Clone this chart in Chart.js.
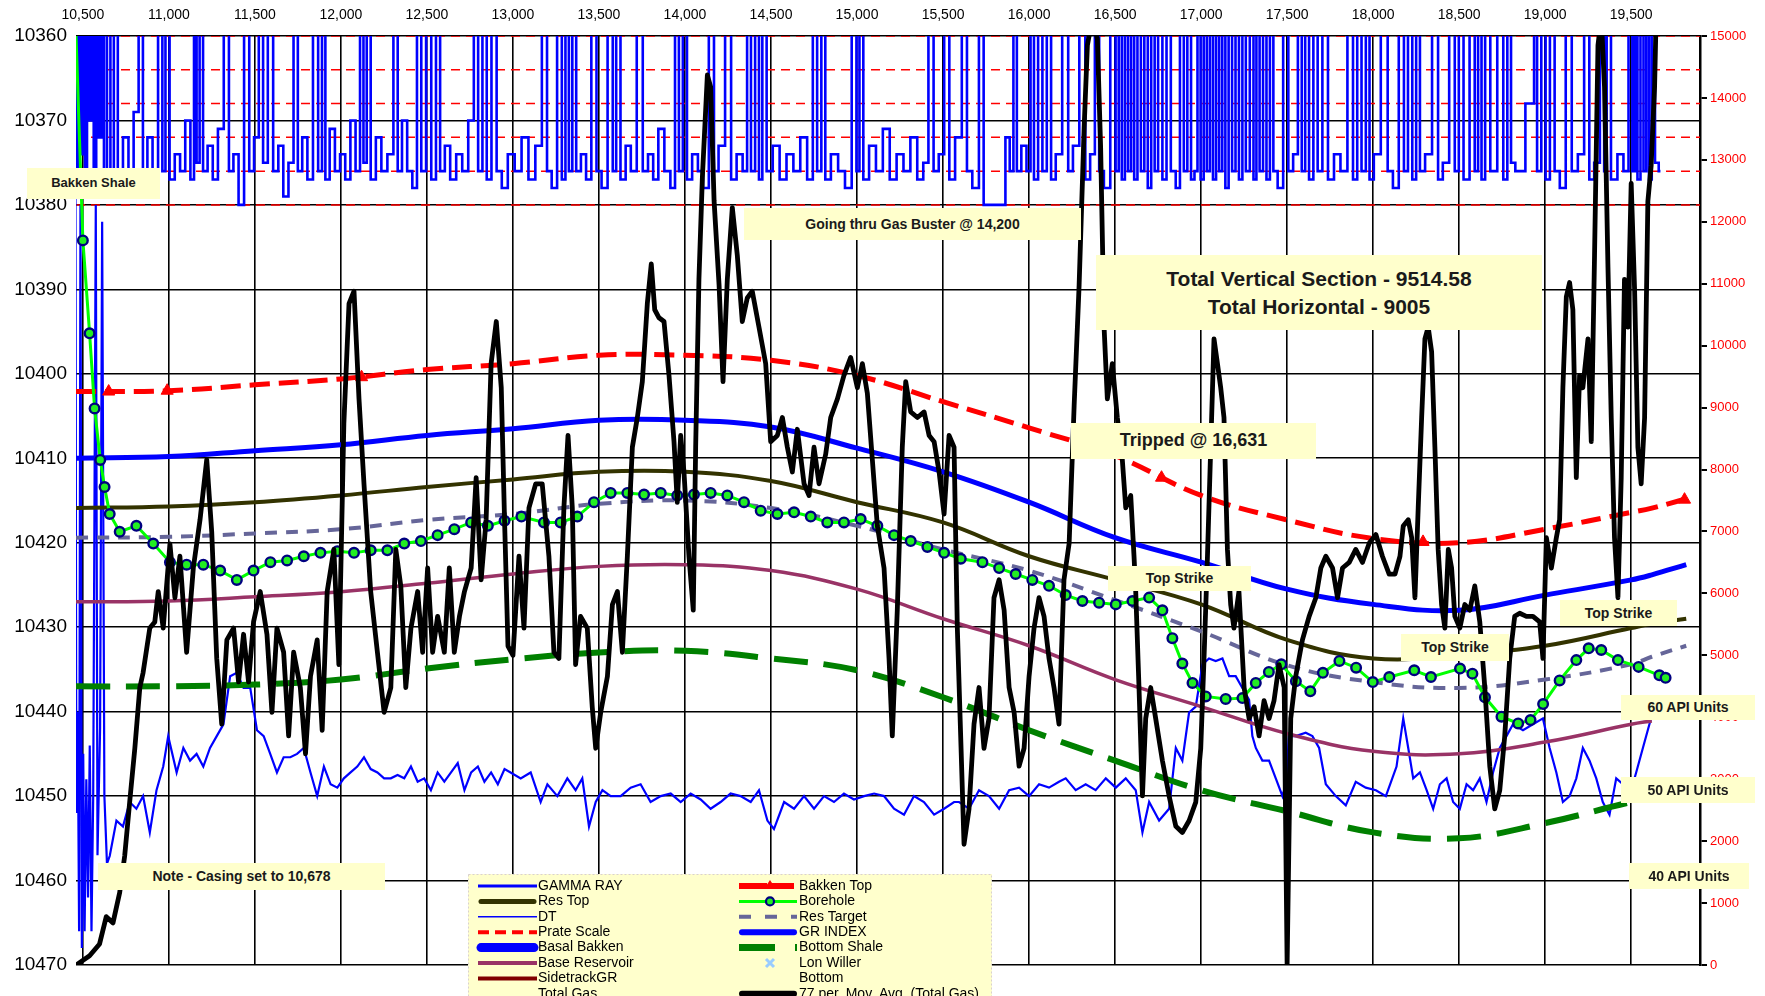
<!DOCTYPE html>
<html>
<head>
<meta charset="utf-8">
<title>Horizontal well log</title>
<script src="https://cdn.jsdelivr.net/npm/chart.js@4.4.1/dist/chart.umd.min.js"></script>
<style>
html,body{margin:0;padding:0;background:#fff;overflow:hidden;}
#wrap{position:relative;width:1765px;height:996px;}
#c{position:absolute;left:0;top:0;}
.note{position:absolute;box-sizing:border-box;background:#ffffcc;color:#1a1a1a;font-family:'Liberation Sans',Arial,sans-serif;font-weight:bold;display:flex;flex-direction:column;align-items:center;justify-content:center;white-space:nowrap;line-height:1.3;}
</style>
</head>
<body>
<div id="wrap">
<canvas id="c" width="1765" height="996"></canvas>
<div class="note" style="left:27px;top:168px;width:133px;height:31px;font-size:13px;">Bakken Shale</div>
<div class="note" style="left:744px;top:208px;width:337px;height:32px;font-size:14px;">Going thru Gas Buster @ 14,200</div>
<div class="note" style="left:1096px;top:255px;width:446px;height:75px;font-size:21px;"><div>Total Vertical Section - 9514.58</div><div>Total Horizontal - 9005</div></div>
<div class="note" style="left:1071px;top:423px;width:245px;height:36px;font-size:18px;">Tripped @ 16,631</div>
<div class="note" style="left:1108px;top:566px;width:143px;height:25px;font-size:14px;">Top Strike</div>
<div class="note" style="left:1401px;top:634px;width:108px;height:27px;font-size:14px;">Top Strike</div>
<div class="note" style="left:1560px;top:600px;width:117px;height:26px;font-size:14px;">Top Strike</div>
<div class="note" style="left:1621px;top:695px;width:134px;height:25px;font-size:14px;">60 API Units</div>
<div class="note" style="left:1621px;top:777px;width:134px;height:26px;font-size:14px;">50 API Units</div>
<div class="note" style="left:1629px;top:863px;width:120px;height:26px;font-size:14px;">40 API Units</div>
<div class="note" style="left:98px;top:863px;width:287px;height:27px;font-size:14px;">Note - Casing set to 10,678</div>
</div>
<script>
// ---------------- axes / ticks ----------------
const MD_MIN = 10460, MD_MAX = 19900;
const X_TICKS = [10500,11000,11500,12000,12500,13000,13500,14000,14500,15000,15500,16000,16500,17000,17500,18000,18500,19000,19500];
const DEPTH_TICKS = [10360,10370,10380,10390,10400,10410,10420,10430,10440,10450,10460,10470];
const GAS_TICKS = [0,1000,2000,3000,4000,5000,6000,7000,8000,9000,10000,11000,12000,13000,14000,15000];

// ---------------- smooth formation surfaces (depth at measured depth) ----------------
const SURF_MD      = [10460,11000,11500,12000,12500,13000,13500,14000,14500,15000,15500,16000,16500,17000,17500,18000,18500,19000,19500,19620,19820];
const BAKKEN_TOP   = [10402.1,10402.0,10401.3,10400.6,10399.5,10398.8,10397.8,10397.8,10398.4,10400.2,10403.3,10406.4,10409.7,10414.4,10417.3,10419.5,10420.0,10418.4,10416.4,10415.9,10414.8];
const BASAL_BAKKEN = [10410.0,10409.8,10409.1,10408.4,10407.3,10406.5,10405.5,10405.5,10406.3,10408.8,10411.6,10415.2,10419.4,10422.3,10425.5,10427.3,10428.0,10426.2,10424.4,10423.8,10422.6];
const RES_TOP      = [10415.9,10415.7,10415.2,10414.4,10413.4,10412.5,10411.6,10411.6,10412.7,10415.2,10417.6,10421.6,10424.4,10427.3,10431.5,10433.7,10433.3,10432.2,10430.1,10429.6,10429.0];
const RES_TARGET   = [10419.4,10419.3,10418.9,10418.4,10417.3,10416.6,10415.4,10415.0,10415.9,10418.0,10420.8,10423.3,10426.8,10430.5,10434.5,10436.5,10437.2,10436.2,10434.4,10433.5,10432.2];
const BASE_RES     = [10427.0,10426.9,10426.4,10425.8,10424.8,10423.7,10422.8,10422.6,10423.3,10425.5,10429.0,10432.2,10436.2,10439.4,10442.6,10444.7,10445.0,10443.6,10441.5,10441.1,null];
const BOTTOM_SHALE = [10437.0,10437.0,10436.8,10436.2,10434.9,10433.8,10433.0,10432.8,10433.7,10435.1,10438.3,10442.2,10445.8,10449.3,10451.8,10454.3,10455.0,10453.2,10450.7,10450.3,10449.8];

const BAKKEN_TOP_MARK_MD    = [10650,10990,12120,16770,18290,19810];
const BAKKEN_TOP_MARK_DEPTH = [10402.1,10402.0,10400.4,10412.3,10419.9,10414.9];

const PRATE_DEPTH = [10360,10364,10368,10372,10376,10380];

// ---------------- well path [MD, TVD] ----------------
const BOREHOLE = [[10452,10355],[10500,10384.2],[10539,10395.2],[10568,10404.1],[10601,10410.2],[10626,10413.4],[10656,10416.6],[10714,10418.7],[10811,10418.0],[10909,10420.1],[11006,10422.3],[11103,10422.6],[11200,10422.6],[11298,10423.3],[11395,10424.4],[11492,10423.3],[11590,10422.3],[11687,10422.1],[11784,10421.6],[11881,10421.2],[11979,10421.0],[12076,10421.2],[12173,10420.9],[12270,10420.9],[12368,10420.1],[12465,10419.8],[12562,10419.1],[12659,10418.4],[12757,10417.6],[12854,10418.0],[12951,10417.4],[13049,10416.9],[13180,10417.6],[13277,10417.6],[13374,10416.9],[13471,10415.2],[13568,10414.1],[13665,10414.1],[13762,10414.3],[13859,10414.1],[13955,10414.4],[14052,10414.3],[14149,10414.1],[14246,10414.4],[14343,10415.2],[14440,10416.2],[14537,10416.6],[14634,10416.4],[14731,10416.9],[14827,10417.6],[14924,10417.6],[15021,10417.2],[15118,10418.0],[15215,10419.1],[15312,10419.8],[15409,10420.5],[15506,10421.2],[15603,10421.9],[15729,10422.3],[15826,10423.0],[15922,10423.7],[16019,10424.4],[16116,10425.1],[16213,10426.2],[16310,10426.9],[16407,10427.1],[16504,10427.3],[16601,10426.9],[16698,10426.5],[16775,10428.0],[16833,10431.3],[16891,10434.3],[16950,10436.6],[17027,10438.2],[17143,10438.5],[17240,10438.4],[17318,10436.6],[17394,10435.3],[17466,10434.4],[17551,10436.4],[17635,10437.6],[17708,10435.4],[17804,10434.0],[17901,10434.8],[17998,10436.5],[18094,10435.9],[18239,10435.1],[18336,10435.9],[18505,10434.9],[18577,10435.5],[18650,10438.3],[18746,10440.6],[18843,10441.4],[18915,10441.0],[18988,10439.1],[19084,10436.3],[19181,10433.9],[19253,10432.5],[19326,10432.7],[19423,10433.9],[19543,10434.7],[19664,10435.7],[19700,10436.0]];

// ---------------- GAMMA RAY (top band) [MD, depth-scale value] ----------------
const GAMMA_RAY = [[10458,10352],[10470,10378],[10482,10352],[10494,10374],[10506,10352],[10518,10376],[10530,10352],[10542,10370],[10556,10352],[10570,10378],[10585,10352],[10600,10372],[10615,10352],[10630,10377],[10650,10352],[10670,10376],[10690,10358],[10716,10376],[10750,10372],[10780,10376],[10810,10369],[10838,10352],[10860,10376],[10890,10372],[10920,10377],[10954,10352],[10970,10376],[10990,10352],[11018,10377],[11050,10374],[11080,10376],[11110,10370],[11140,10377],[11152,10352],[11170,10375],[11187,10352],[11210,10376],[11240,10373],[11270,10377],[11300,10371],[11338,10352],[11360,10376],[11390,10374],[11420,10380],[11454,10352],[11480,10376],[11510,10372],[11535,10352],[11560,10375],[11590,10352],[11622,10376],[11650,10373],[11680,10379],[11710,10375],[11739,10352],[11760,10376],[11790,10372],[11820,10377],[11855,10352],[11880,10376],[11900,10352],[11919,10377],[11950,10371],[11980,10376],[12010,10374],[12040,10377],[12070,10370],[12100,10376],[12122,10352],[12140,10375],[12160,10352],[12186,10377],[12220,10372],[12250,10376],[12290,10374],[12320,10352],[12340,10376],[12370,10370],[12400,10376],[12430,10378],[12454,10352],[12480,10376],[12510,10352],[12540,10377],[12565,10352],[12588,10376],[12620,10373],[12650,10377],[12690,10374],[12720,10376],[12760,10370],[12785,10352],[12810,10376],[12835,10352],[12860,10377],[12890,10352],[12920,10376],[12950,10378],[12990,10374],[13030,10376],[13070,10372],[13110,10377],[13150,10373],[13186,10352],[13210,10376],[13240,10378],[13273,10352],[13295,10377],[13315,10352],[13335,10376],[13355,10352],[13380,10376],[13410,10374],[13440,10377],[13471,10352],[13500,10376],[13530,10378],[13570,10352],[13590,10376],[13610,10352],[13640,10377],[13670,10373],[13700,10376],[13739,10352],[13770,10376],[13800,10374],[13830,10377],[13860,10371],[13900,10376],[13930,10378],[13954,10352],[13975,10376],[14000,10352],[14023,10377],[14060,10374],[14090,10376],[14120,10378],[14157,10352],[14180,10376],[14210,10373],[14256,10352],[14280,10377],[14320,10374],[14350,10376],[14372,10352],[14395,10376],[14420,10352],[14440,10377],[14459,10352],[14490,10376],[14530,10373],[14570,10377],[14610,10374],[14650,10376],[14690,10372],[14730,10377],[14756,10352],[14780,10376],[14805,10352],[14826,10377],[14870,10374],[14910,10376],[14950,10378],[14988,10352],[15005,10376],[15023,10352],[15050,10377],[15090,10373],[15130,10376],[15170,10371],[15210,10377],[15250,10374],[15290,10376],[15330,10372],[15370,10377],[15400,10375],[15430,10352],[15460,10376],[15490,10374],[15523,10352],[15550,10377],[15590,10372],[15628,10352],[15650,10376],[15690,10378],[15727,10352],[15745,10380],[15800,10380],[15850,10380],[15875,10372],[15900,10376],[15918,10352],[15940,10376],[15970,10373],[16000,10376],[16017,10352],[16040,10377],[16065,10352],[16090,10376],[16116,10352],[16140,10377],[16170,10374],[16215,10352],[16240,10376],[16270,10373],[16314,10352],[16340,10377],[16370,10374],[16395,10352],[16420,10376],[16450,10378],[16494,10352],[16512,10376],[16530,10352],[16548,10377],[16566,10352],[16584,10376],[16602,10352],[16620,10377],[16640,10352],[16660,10376],[16680,10352],[16700,10378],[16720,10352],[16740,10376],[16760,10352],[16790,10377],[16808,10352],[16840,10376],[16865,10378],[16889,10352],[16910,10376],[16930,10352],[16953,10377],[16970,10376],[16988,10352],[17006,10377],[17024,10352],[17042,10376],[17060,10352],[17078,10377],[17096,10352],[17114,10376],[17132,10352],[17150,10378],[17170,10352],[17190,10376],[17210,10352],[17230,10377],[17250,10352],[17270,10376],[17296,10352],[17313,10377],[17330,10352],[17350,10376],[17370,10352],[17390,10377],[17410,10352],[17430,10376],[17460,10378],[17494,10352],[17520,10376],[17550,10374],[17575,10352],[17595,10376],[17615,10352],[17640,10377],[17665,10352],[17690,10376],[17720,10352],[17755,10377],[17790,10374],[17830,10376],[17871,10352],[17895,10377],[17920,10352],[17945,10376],[17970,10352],[17988,10377],[18020,10374],[18069,10352],[18100,10376],[18130,10378],[18168,10352],[18190,10376],[18215,10352],[18240,10377],[18260,10352],[18284,10376],[18320,10374],[18365,10352],[18390,10377],[18420,10375],[18464,10352],[18485,10376],[18511,10352],[18540,10377],[18581,10352],[18600,10376],[18620,10352],[18640,10377],[18662,10352],[18700,10376],[18743,10352],[18770,10377],[18790,10352],[18813,10375],[18840,10376],[18930,10368],[18941,10352],[18965,10376],[18990,10352],[19015,10377],[19040,10352],[19070,10376],[19100,10378],[19139,10352],[19170,10376],[19210,10374],[19243,10352],[19270,10377],[19300,10375],[19336,10352],[19350,10376],[19365,10352],[19400,10377],[19440,10374],[19470,10376],[19499,10352],[19515,10376],[19528,10352],[19545,10377],[19563,10352],[19580,10376],[19595,10352],[19612,10377],[19627,10352],[19650,10375],[19670,10376]];

// ---------------- DT (lower band) [MD, depth-scale value] ----------------
const DT = [[10455,10350],[10462,10452],[10470,10440],[10478,10466],[10486,10380],[10494,10468],[10502,10445],[10510,10466],[10520,10448],[10530,10462],[10540,10444],[10550,10466],[10560,10450],[10575,10380],[10585,10457],[10600,10442],[10612,10382],[10625,10450],[10640,10458],[10656,10457.1],[10695,10452.9],[10733,10453.6],[10772,10450.7],[10811,10451.5],[10850,10450.0],[10889,10454.3],[10928,10449.3],[10967,10446.5],[10996,10442.9],[11045,10447.2],[11084,10444.3],[11123,10445.8],[11161,10445.0],[11200,10446.5],[11239,10444.3],[11278,10442.9],[11317,10441.5],[11356,10435.8],[11395,10435.4],[11434,10437.2],[11473,10437.2],[11512,10442.2],[11551,10442.9],[11589,10445.0],[11628,10447.2],[11667,10445.4],[11706,10445.4],[11745,10445.0],[11784,10444.3],[11823,10447.2],[11862,10450.0],[11901,10446.5],[11940,10448.6],[11979,10449.0],[12017,10447.9],[12056,10447.2],[12095,10446.5],[12134,10445.4],[12173,10446.8],[12212,10447.2],[12251,10447.9],[12290,10447.9],[12329,10447.5],[12368,10447.9],[12407,10446.5],[12446,10448.3],[12484,10447.9],[12523,10449.3],[12562,10447.2],[12601,10448.3],[12640,10447.2],[12679,10446.1],[12718,10449.3],[12757,10447.2],[12796,10446.5],[12834,10448.3],[12873,10447.2],[12912,10448.6],[12951,10446.8],[12986,10447.2],[13045,10447.9],[13103,10447.2],[13161,10450.7],[13200,10448.6],[13258,10450.0],[13316,10447.9],[13364,10449.3],[13403,10447.9],[13442,10453.6],[13481,10450.7],[13520,10449.3],[13568,10450.0],[13626,10450.0],[13684,10449.0],[13742,10448.6],[13800,10450.7],[13859,10450.0],[13917,10449.7],[13975,10450.7],[14033,10449.7],[14091,10450.4],[14149,10451.5],[14207,10450.7],[14265,10449.7],[14323,10450.0],[14382,10450.7],[14430,10449.3],[14479,10452.9],[14517,10453.9],[14576,10450.7],[14634,10451.5],[14692,10450.0],[14750,10451.5],[14808,10450.0],[14866,10450.7],[14924,10449.7],[14982,10450.4],[15041,10450.0],[15099,10449.7],[15157,10450.0],[15215,10451.5],[15273,10452.2],[15331,10450.0],[15389,10450.7],[15448,10452.2],[15506,10451.5],[15564,10450.7],[15593,10450.7],[15651,10451.5],[15709,10449.3],[15767,10450.0],[15826,10451.5],[15884,10449.3],[15942,10449.0],[16000,10450.0],[16058,10448.6],[16116,10449.0],[16174,10448.3],[16213,10447.9],[16271,10449.3],[16329,10448.6],[16387,10449.3],[16446,10447.9],[16504,10449.0],[16562,10447.9],[16620,10449.3],[16659,10454.3],[16698,10450.7],[16756,10452.9],[16814,10451.5],[16853,10444.3],[16891,10445.8],[16930,10440.1],[16969,10439.4],[17008,10434.4],[17046,10433.7],[17085,10434.0],[17124,10433.7],[17163,10435.8],[17201,10435.8],[17240,10437.2],[17279,10438.6],[17298,10442.9],[17318,10444.3],[17356,10445.8],[17395,10445.8],[17434,10447.9],[17473,10450.0],[17492,10448.6],[17511,10442.9],[17550,10442.9],[17608,10442.5],[17647,10442.9],[17686,10444.3],[17725,10448.6],[17783,10450.0],[17841,10451.1],[17899,10448.3],[17957,10449.0],[18016,10449.3],[18074,10450.0],[18136,10446.5],[18175,10440.8],[18204,10444.3],[18233,10447.9],[18272,10447.2],[18311,10449.3],[18349,10451.5],[18388,10448.6],[18427,10447.9],[18465,10450.7],[18504,10451.5],[18543,10448.6],[18581,10449.3],[18620,10447.9],[18659,10450.7],[18697,10447.2],[18736,10444.3],[18775,10442.9],[18813,10441.5],[18871,10442.2],[18929,10441.5],[18987,10440.8],[19026,10444.3],[19065,10447.2],[19103,10450.7],[19142,10450.0],[19181,10447.9],[19219,10444.3],[19258,10445.8],[19297,10447.9],[19335,10450.7],[19374,10452.2],[19413,10447.9],[19452,10448.6],[19490,10450.0],[19529,10447.2],[19568,10444.3],[19606,10441.5],[19625,10440.1]];

// ---------------- 77 per. Mov. Avg. (Total Gas) [MD, units] ----------------
const GAS_AVG = [[10461,0],[10539,150],[10597,340],[10636,780],[10675,680],[10714,1170],[10743,1760],[10772,2630],[10802,3500],[10831,4480],[10850,4720],[10889,5440],[10918,5540],[10938,6030],[10967,5440],[11006,6800],[11035,5930],[11064,6600],[11103,5050],[11142,6410],[11181,7190],[11220,8160],[11249,6990],[11278,4950],[11307,3890],[11337,5250],[11376,5440],[11405,4570],[11434,5340],[11463,4570],[11492,5540],[11531,6030],[11570,5340],[11599,4080],[11628,5440],[11667,5050],[11696,3700],[11725,5050],[11764,4480],[11794,3410],[11823,4660],[11862,5250],[11891,3790],[11920,6030],[11959,6710],[11988,4850],[12017,8740],[12047,10680],[12076,10880],[12105,9140],[12134,7770],[12173,6030],[12212,5050],[12251,4080],[12290,4480],[12319,6710],[12348,6120],[12377,4480],[12407,5440],[12446,6030],[12475,5050],[12504,6410],[12533,5050],[12562,5630],[12601,5050],[12630,6410],[12659,5050],[12689,5630],[12718,6030],[12757,6410],[12786,7870],[12815,6220],[12844,7190],[12873,9710],[12903,10390],[12932,9320],[12951,7190],[12971,5150],[13000,5000],[13035,6600],[13064,5440],[13093,7380],[13132,7770],[13170,7770],[13209,6600],[13238,5050],[13267,4950],[13296,7380],[13320,8550],[13345,7380],[13364,4850],[13393,5630],[13432,5440],[13461,4160],[13481,3500],[13510,4080],[13549,4660],[13578,5820],[13607,6030],[13636,5050],[13665,6600],[13694,8360],[13723,8840],[13752,9420],[13781,10680],[13804,11320],[13824,10580],[13849,10450],[13878,10390],[13907,9520],[13936,8450],[13955,7470],[13975,8550],[13994,7960],[14023,6600],[14048,5730],[14062,8360],[14081,11070],[14101,12720],[14130,14370],[14149,14180],[14169,12340],[14198,10980],[14221,9420],[14246,11070],[14275,12230],[14304,11460],[14333,10390],[14362,10770],[14391,10880],[14430,10300],[14469,9710],[14498,8450],[14537,8550],[14566,8840],[14595,8360],[14624,7960],[14653,8650],[14692,7770],[14721,7580],[14750,8360],[14779,7770],[14818,8250],[14847,8840],[14886,9140],[14924,9520],[14963,9810],[15002,9320],[15031,9710],[15060,9230],[15089,8160],[15118,7090],[15157,6410],[15186,4950],[15205,3700],[15234,5730],[15263,8360],[15283,9420],[15312,8930],[15351,8840],[15390,8930],[15419,8550],[15448,8450],[15477,7960],[15506,7280],[15535,8550],[15564,8360],[15583,5440],[15622,1950],[15651,2520],[15680,3890],[15709,4480],[15738,3500],[15767,3980],[15796,5930],[15826,6220],[15855,5730],[15884,4480],[15913,4080],[15942,3210],[15971,3500],[16000,4660],[16029,5440],[16058,5930],[16087,5630],[16116,4950],[16145,4480],[16174,3890],[16203,6220],[16233,6810],[16262,9030],[16291,10980],[16320,13510],[16339,14850],[16368,15300],[16397,14950],[16416,13200],[16436,10300],[16455,9140],[16484,9710],[16513,8840],[16542,8160],[16562,7380],[16591,7580],[16610,6600],[16620,6030],[16639,4480],[16659,2730],[16678,3980],[16707,4480],[16736,3980],[16775,3300],[16814,2730],[16853,2240],[16891,2140],[16930,2330],[16969,2630],[16998,3500],[17017,4950],[17037,6600],[17056,8360],[17075,10110],[17095,9710],[17114,9320],[17133,8840],[17153,6710],[17172,5820],[17191,5440],[17220,6030],[17250,4480],[17279,3980],[17308,4170],[17337,3700],[17366,4270],[17395,3980],[17424,4270],[17453,4850],[17483,4480],[17500,0],[17521,3980],[17550,4660],[17589,5250],[17628,5630],[17667,5930],[17696,6410],[17725,6600],[17764,6410],[17793,5930],[17822,6410],[17861,6500],[17899,6710],[17938,6500],[17977,6810],[18016,6950],[18054,6600],[18093,6310],[18127,6310],[18156,6600],[18175,7090],[18204,7190],[18224,6900],[18243,5930],[18262,7380],[18282,8840],[18301,10110],[18320,10300],[18340,9900],[18359,8360],[18378,6710],[18398,5820],[18417,5440],[18437,6710],[18456,6410],[18475,5630],[18504,5440],[18533,5820],[18562,5730],[18591,6120],[18620,5540],[18649,4480],[18678,3210],[18707,2520],[18736,2820],[18765,3700],[18794,4950],[18823,5630],[18852,5680],[18891,5630],[18929,5630],[18968,5540],[18987,4950],[19007,6900],[19036,6410],[19065,6900],[19084,7190],[19103,9320],[19123,10790],[19142,11020],[19161,10580],[19181,7870],[19200,9520],[19219,9320],[19249,10110],[19268,8450],[19287,11460],[19307,14850],[19326,15300],[19345,14180],[19365,11270],[19384,8840],[19403,6900],[19423,5930],[19442,7870],[19461,11070],[19481,10300],[19500,12620],[19520,10880],[19539,8360],[19558,7770],[19578,8840],[19597,12330],[19616,12910],[19636,14180],[19645,15300]];

// ---------------- helpers ----------------
function xy(mds, vals){ return mds.map((m,i)=>({x:m, y:vals[i]})); }
function pairs(list){ return list.map(p=>({x:p[0], y:p[1]})); }
function prateLines(){
  const out=[];
  PRATE_DEPTH.forEach(d=>{ out.push({x:MD_MIN,y:d},{x:MD_MAX,y:d},{x:MD_MAX,y:null}); });
  return out;
}

const FONT = "'Liberation Sans', Arial, sans-serif";
Chart.defaults.font.family = FONT;

const base = {pointRadius:0, pointHoverRadius:0, fill:false, yAxisID:'y', tension:0, borderCapStyle:'butt'};

const datasets = [
  Object.assign({}, base, {label:'GAMMA RAY', data:pairs(GAMMA_RAY), borderColor:'#0000ff', borderWidth:2.6, stepped:'middle', order:19, lg:[0,0], lgWidth:3}),
  Object.assign({}, base, {label:'Res Top', data:xy(SURF_MD,RES_TOP), borderColor:'#333300', borderWidth:4, tension:0.4, order:14, lg:[0,1], lgWidth:5, lgCap:'round'}),
  Object.assign({}, base, {label:'DT', data:pairs(DT), borderColor:'#0000ff', borderWidth:2.2, order:18, lg:[0,2], lgWidth:1.5}),
  Object.assign({}, base, {label:'Prate Scale', data:prateLines(), borderColor:'#ff0000', borderWidth:1.5, borderDash:[9,6], spanGaps:false, order:20, lg:[0,3], lgWidth:4, lgDash:[11,6]}),
  Object.assign({}, base, {label:'Basal Bakken', data:xy(SURF_MD,BASAL_BAKKEN), borderColor:'#0000ff', borderWidth:5, tension:0.4, order:13, lg:[0,4], lgWidth:9, lgCap:'round'}),
  Object.assign({}, base, {label:'Base Reservoir', data:xy(SURF_MD,BASE_RES), borderColor:'#993366', borderWidth:3.5, tension:0.4, order:16, lg:[0,5], lgWidth:4}),
  Object.assign({}, base, {label:'SidetrackGR', data:[], borderColor:'#800000', borderWidth:3, order:30, lg:[0,6], lgWidth:4}),
  Object.assign({}, base, {label:'Total Gas', data:[], borderColor:'rgba(0,0,0,0)', borderWidth:0, order:30, lg:[0,7], lgNoLine:true}),
  Object.assign({}, base, {label:'Bakken Top', data:xy(SURF_MD,BAKKEN_TOP), borderColor:'#ff0000', borderWidth:5, borderDash:[20,9], tension:0.4, order:12, lg:[1,0], lgWidth:6, lgDash:[28,5,22], lgMarker:'triangle'}),
  Object.assign({}, base, {label:'Borehole', data:pairs(BOREHOLE), borderColor:'#00ff00', borderWidth:3, order:10,
      pointRadius:(c)=>c.dataIndex===0?0:4.8, pointBackgroundColor:'#22ee22', pointBorderColor:'#000080', pointBorderWidth:2.4, pointStyle:'circle',
      lg:[1,1], lgWidth:3, lgMarker:'circle'}),
  Object.assign({}, base, {label:'Res Target', data:xy(SURF_MD,RES_TARGET), borderColor:'#666699', borderWidth:4, borderDash:[12,9], tension:0.4, order:15, lg:[1,2], lgWidth:4, lgDash:[12,14]}),
  Object.assign({}, base, {label:'GR INDEX', data:[], borderColor:'#0000ff', borderWidth:5, order:30, lg:[1,3], lgWidth:6, lgCap:'round'}),
  Object.assign({}, base, {label:'Bottom Shale', data:xy(SURF_MD,BOTTOM_SHALE), borderColor:'#008000', borderWidth:6, borderDash:[34,16], tension:0.4, order:17, lg:[1,4], lgWidth:7, lgDash:[36,20]}),
  Object.assign({}, base, {label:'Lon Willer', data:[], borderColor:'rgba(0,0,0,0)', borderWidth:0, order:30, lg:[1,5], lgNoLine:true, lgMarker:'cross'}),
  Object.assign({}, base, {label:'Bottom', data:[], borderColor:'rgba(0,0,0,0)', borderWidth:0, order:30, lg:[1,6], lgNoLine:true}),
  Object.assign({}, base, {label:'77 per. Mov. Avg. (Total Gas)', data:pairs(GAS_AVG), yAxisID:'y2', borderColor:'#000000', borderWidth:4.8, borderJoinStyle:'round', order:5, lg:[1,7], lgWidth:6, lgCap:'round'}),
  Object.assign({}, base, {label:'Bakken Top markers', data:xy(BAKKEN_TOP_MARK_MD,BAKKEN_TOP_MARK_DEPTH), showLine:false, pointStyle:'triangle', pointRadius:7, pointBackgroundColor:'#ff0000', pointBorderColor:'#ff0000', pointBorderWidth:1, order:11})
];

// ---------------- custom boxed legend ----------------
const boxLegend = {
  id:'boxLegend',
  afterDraw(chart){
    const ctx = chart.ctx;
    ctx.save();
    ctx.fillStyle = '#ffffcc';
    ctx.fillRect(468, 874, 524, 122);
    ctx.strokeStyle = '#d9d0d0'; ctx.lineWidth = 1; ctx.setLineDash([2,2]);
    ctx.strokeRect(468.5, 874.5, 523, 130);
    ctx.setLineDash([]);
    ctx.font = '14px ' + FONT;
    ctx.textBaseline = 'middle';
    chart.data.datasets.forEach(ds=>{
      if(!ds.lg) return;
      const col = ds.lg[0], row = ds.lg[1];
      const x0 = col===0 ? 478 : 739, x1 = col===0 ? 537 : 797, tx = col===0 ? 538 : 799;
      const y = 886 + row*15.4;
      if(!ds.lgNoLine){
        ctx.strokeStyle = ds.borderColor;
        ctx.lineWidth = ds.lgWidth || ds.borderWidth;
        ctx.setLineDash(ds.lgDash || []);
        ctx.lineCap = ds.lgCap || 'butt';
        ctx.beginPath(); ctx.moveTo(x0 + (ds.lgCap==='round'?3:0), y); ctx.lineTo(x1 - (ds.lgCap==='round'?3:0), y); ctx.stroke();
        ctx.setLineDash([]); ctx.lineCap='butt';
      }
      const cx = (x0+x1)/2 + 2;
      if(ds.lgMarker==='triangle'){
        ctx.fillStyle = '#ff0000';
        ctx.beginPath(); ctx.moveTo(cx, y-6); ctx.lineTo(cx+6, y+3); ctx.lineTo(cx-6, y+3); ctx.closePath(); ctx.fill();
      } else if(ds.lgMarker==='circle'){
        ctx.fillStyle = '#22ee22'; ctx.strokeStyle = '#000080'; ctx.lineWidth = 2.2;
        ctx.beginPath(); ctx.arc(cx, y, 4, 0, Math.PI*2); ctx.fill(); ctx.stroke();
      } else if(ds.lgMarker==='cross'){
        ctx.strokeStyle = '#99ccff'; ctx.lineWidth = 3;
        ctx.beginPath(); ctx.moveTo(cx-4,y-4); ctx.lineTo(cx+4,y+4); ctx.moveTo(cx+4,y-4); ctx.lineTo(cx-4,y+4); ctx.stroke();
      }
      ctx.fillStyle = '#000';
      ctx.fillText(ds.label, tx, y);
    });
    ctx.restore();
  }
};

new Chart(document.getElementById('c'), {
  type:'line',
  data:{datasets:datasets},
  options:{
    responsive:false, devicePixelRatio:1, animation:false,
    layout:{padding:{left:0, right:0, top:0, bottom:31}},
    plugins:{legend:{display:false}, tooltip:{enabled:false}},
    elements:{line:{borderJoinStyle:'miter'}},
    scales:{
      x:{type:'linear', position:'top', min:MD_MIN, max:MD_MAX,
         afterBuildTicks:(s)=>{ s.ticks = X_TICKS.map(v=>({value:v})); },
         afterFit:(s)=>{ s.height = 36; },
         grid:{color:'#000', lineWidth:1.6, drawTicks:false},
         border:{display:false},
         ticks:{autoSkip:false, maxRotation:0, padding:12, color:'#000', font:{size:14}, callback:(v)=>Number(v).toLocaleString('en-US')}},
      y:{type:'linear', position:'left', reverse:true, min:10360, max:10470,
         afterBuildTicks:(s)=>{ s.ticks = DEPTH_TICKS.map(v=>({value:v})); },
         afterFit:(s)=>{ s.width = 76; },
         grid:{color:'#000', lineWidth:1.6, drawTicks:false},
         border:{display:false},
         ticks:{padding:9, color:'#000', font:{size:19}, callback:(v)=>String(v)}},
      y2:{type:'linear', position:'right', min:0, max:15000,
         afterBuildTicks:(s)=>{ s.ticks = GAS_TICKS.map(v=>({value:v})); },
         afterFit:(s)=>{ s.width = 65; },
         grid:{drawOnChartArea:false, color:'#000', lineWidth:2, tickLength:7},
         border:{display:true, color:'#000', width:2.5},
         ticks:{padding:3, color:'#ff0000', font:{size:13}, callback:(v)=>String(v)}}
    }
  },
  plugins:[boxLegend]
});
</script>
</body>
</html>
